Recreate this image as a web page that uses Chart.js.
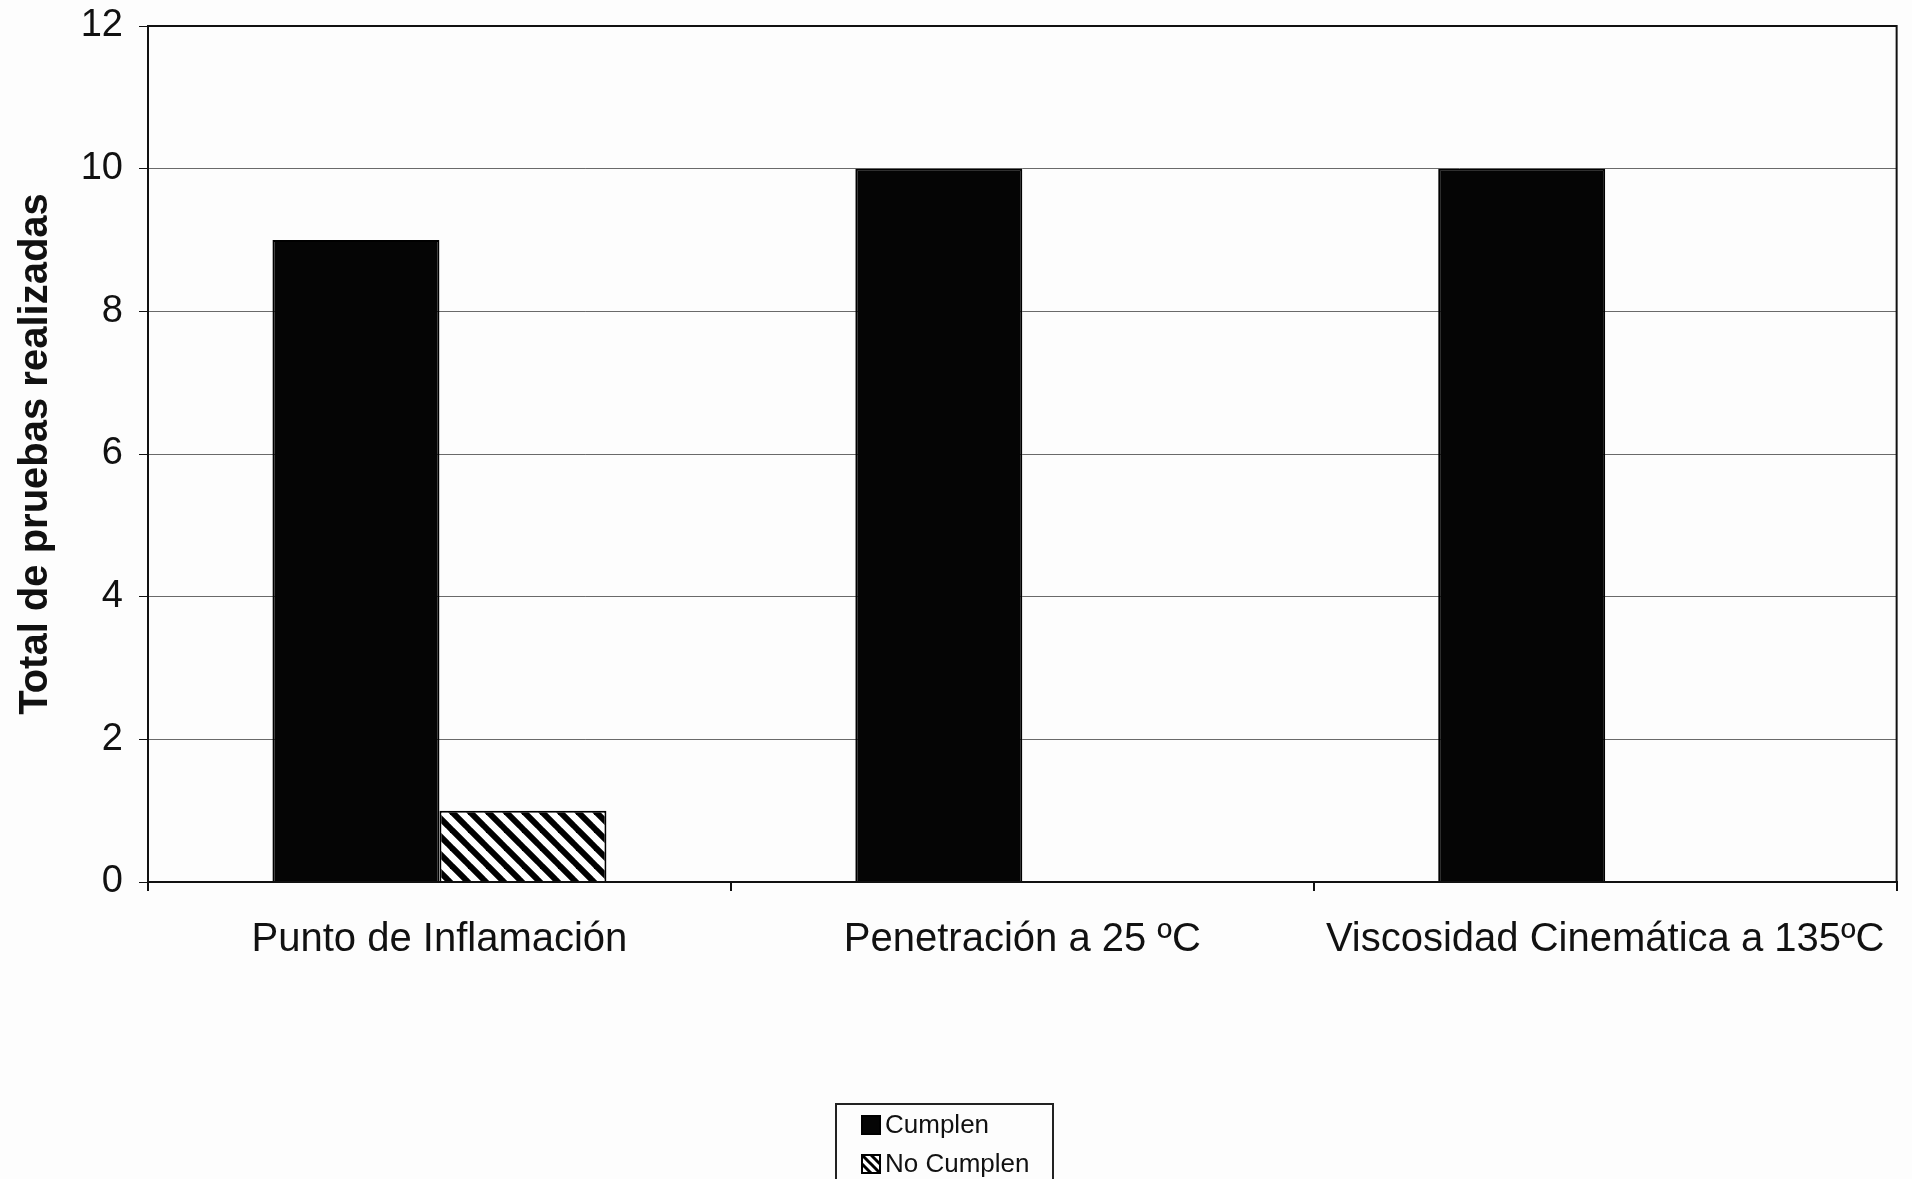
<!DOCTYPE html>
<html>
<head>
<meta charset="utf-8">
<script src="https://cdn.jsdelivr.net/npm/chart.js@4.4.1/dist/chart.umd.min.js"></script>
<style>
  html, body { margin: 0; padding: 0; background: #fdfdfd; overflow: hidden; }
  #wrap { position: relative; width: 1912px; height: 1179px; }
  #legend {
    position: absolute; left: 835px; top: 1103px; width: 215px; height: 90px;
    border: 2px solid #222; border-bottom: none; background: #fdfdfd;
    font-family: "Liberation Sans", Arial, sans-serif; font-size: 26px; color: #111;
  }
  #legend .item { position: absolute; left: 24px; display: flex; align-items: center; }
  #legend canvas { margin-right: 4px; }
</style>
</head>
<body>
<div id="wrap">
  <canvas id="chart" width="1912" height="1179"></canvas>
  <div id="legend"></div>
</div>
<script>
// datos
const categories = ['Punto de Inflamación', 'Penetración a 25 ºC', 'Viscosidad Cinemática a 135ºC'];
const cumplen = [9, 10, 10];
const noCumplen = [1, 0, 0];
const yTicks = [0, 2, 4, 6, 8, 10, 12];
const yTitle = 'Total de pruebas realizadas';

const FONT = '"Liberation Sans", Arial, sans-serif';

// patron rayado "\\\"
function hatch(size, lw) {
  const c = document.createElement('canvas');
  c.width = size; c.height = size;
  const g = c.getContext('2d');
  g.fillStyle = '#fff'; g.fillRect(0, 0, size, size);
  g.strokeStyle = '#000'; g.lineWidth = lw;
  for (let k = -1; k <= 1; k++) {
    g.beginPath();
    g.moveTo(k * size - 2, -2);
    g.lineTo(k * size + size + 2, size + 2);
    g.stroke();
  }
  return g.createPattern(c, 'repeat');
}

// marco del area de trazado
const frame = {
  id: 'frame',
  afterDatasetsDraw(chart) {
    const a = chart.chartArea, ctx = chart.ctx;
    ctx.save();
    ctx.strokeStyle = '#111'; ctx.lineWidth = 2;
    ctx.strokeRect(a.left, a.top, a.right - a.left, a.bottom - a.top);
    ctx.restore();
  }
};

const ctx = document.getElementById('chart').getContext('2d');
const chart = new Chart(ctx, {
  type: 'bar',
  data: {
    labels: categories,
    datasets: [
      { label: 'Cumplen', data: cumplen, backgroundColor: '#050505', borderColor: '#000', borderWidth: 2 },
      { label: 'No Cumplen', data: noCumplen, backgroundColor: hatch(18, 6), borderColor: '#000', borderWidth: 2 }
    ]
  },
  options: {
    responsive: false, animation: false,
    layout: { padding: { top: 26, right: 15, left: 0, bottom: 0 } },
    datasets: { bar: { categoryPercentage: 0.573, barPercentage: 1 } },
    plugins: { legend: { display: false }, tooltip: { enabled: false } },
    scales: {
      x: {
        afterFit: s => { s.height = 297; },
        grid: { offset: true, drawOnChartArea: false, drawTicks: true, tickLength: 9, color: '#111', lineWidth: 2 },
        border: { display: true, color: '#111', width: 2 },
        ticks: { color: '#111', font: { family: FONT, size: 40 }, padding: 25, maxRotation: 0 }
      },
      y: {
        min: 0, max: 12,
        afterFit: s => { s.width = 148; s.paddingTop = 0; s.paddingBottom = 0; },
        afterBuildTicks: s => { s.ticks = yTicks.map(v => ({ value: v })); },
        grid: { color: '#6a6a6a', lineWidth: 1, tickLength: 9, tickColor: '#111' },
        border: { display: true, color: '#111', width: 2 },
        ticks: { color: '#111', font: { family: FONT, size: 38 }, padding: 16 },
        title: { display: true, text: yTitle, color: '#111', font: { family: FONT, size: 40, weight: 'bold' }, padding: { top: 12, bottom: 0 } }
      }
    }
  },
  plugins: [frame]
});

// leyenda
const lg = document.getElementById('legend');
chart.data.datasets.forEach((ds, i) => {
  const it = document.createElement('div');
  it.className = 'item';
  it.style.top = (4 + i * 39) + 'px';
  const sw = document.createElement('canvas');
  sw.width = 20; sw.height = 20;
  const g = sw.getContext('2d');
  g.fillStyle = i === 0 ? ds.backgroundColor : hatch(9, 3);
  g.fillRect(0, 0, 20, 20);
  g.strokeStyle = '#000'; g.lineWidth = 2; g.strokeRect(1, 1, 18, 18);
  it.appendChild(sw);
  const t = document.createElement('span');
  t.textContent = ds.label;
  it.appendChild(t);
  lg.appendChild(it);
});
</script>
</body>
</html>
